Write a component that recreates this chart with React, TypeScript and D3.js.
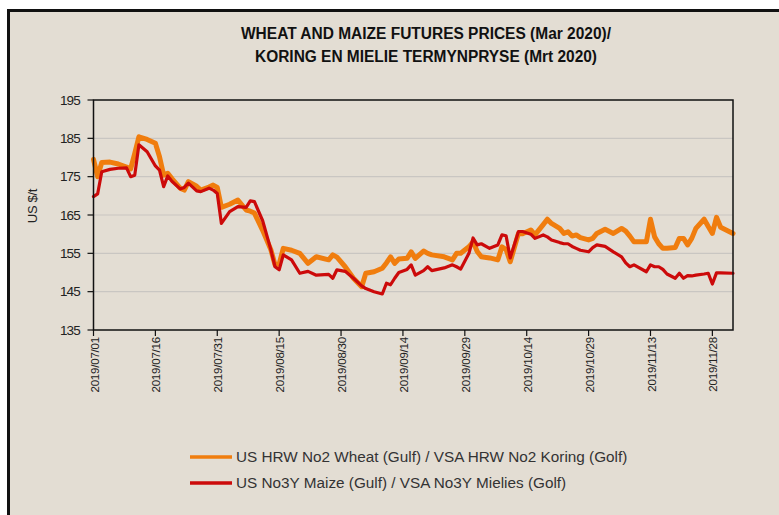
import React from "react";
import * as d3 from "d3";

const titleLines = [
  "WHEAT AND MAIZE FUTURES PRICES (Mar 2020)/",
  "KORING EN MIELIE TERMYNPRYSE  (Mrt 2020)",
];
const yAxisTitle = "US $/t";
const yTicks = [135, 145, 155, 165, 175, 185, 195];
const xTickDates = [
  "2019-07-01", "2019-07-16", "2019-07-31", "2019-08-15", "2019-08-30", "2019-09-14",
  "2019-09-29", "2019-10-14", "2019-10-29", "2019-11-13", "2019-11-28",
];
const seriesNames = [
  "US HRW No2 Wheat (Gulf) / VSA HRW No2 Koring (Golf)",
  "US No3Y Maize (Gulf) / VSA No3Y Mielies (Golf)",
];
const seriesColors = ["#f07d0e", "#cc0a0a"];

const dates = [
  "2019-07-01", "2019-07-02", "2019-07-03", "2019-07-05", "2019-07-07", "2019-07-09", "2019-07-10",
  "2019-07-11", "2019-07-12", "2019-07-14", "2019-07-16", "2019-07-17", "2019-07-18", "2019-07-19",
  "2019-07-20", "2019-07-22", "2019-07-23", "2019-07-24", "2019-07-26", "2019-07-27", "2019-07-29",
  "2019-07-30", "2019-07-31", "2019-08-01", "2019-08-03", "2019-08-05", "2019-08-07", "2019-08-08",
  "2019-08-09", "2019-08-11", "2019-08-13", "2019-08-14", "2019-08-15", "2019-08-16", "2019-08-18",
  "2019-08-20", "2019-08-22", "2019-08-24", "2019-08-27", "2019-08-28", "2019-08-29", "2019-08-31",
  "2019-09-02", "2019-09-04", "2019-09-05", "2019-09-07", "2019-09-09", "2019-09-10", "2019-09-11",
  "2019-09-12", "2019-09-13", "2019-09-15", "2019-09-16", "2019-09-17", "2019-09-19", "2019-09-20",
  "2019-09-21", "2019-09-24", "2019-09-26", "2019-09-27", "2019-09-28", "2019-09-30", "2019-10-01",
  "2019-10-02", "2019-10-03", "2019-10-05", "2019-10-07", "2019-10-08", "2019-10-09", "2019-10-10",
  "2019-10-12", "2019-10-13", "2019-10-15", "2019-10-16", "2019-10-18", "2019-10-19", "2019-10-20",
  "2019-10-22", "2019-10-23", "2019-10-24", "2019-10-25", "2019-10-26", "2019-10-27", "2019-10-29",
  "2019-10-30", "2019-10-31", "2019-11-02", "2019-11-04", "2019-11-06", "2019-11-07", "2019-11-08",
  "2019-11-09", "2019-11-12", "2019-11-13", "2019-11-14", "2019-11-15", "2019-11-16", "2019-11-17",
  "2019-11-19", "2019-11-20", "2019-11-21", "2019-11-22", "2019-11-23", "2019-11-24", "2019-11-26",
  "2019-11-27", "2019-11-28", "2019-11-29", "2019-11-30", "2019-12-03",
];

const wheat = [
  179.5, 175, 178.7, 178.8, 178.3, 177.5, 177,
  181.1, 185.4, 184.7, 183.7, 180.2, 175.4, 175.9,
  174.5, 172, 171.5, 173.7, 172.5, 171.5, 172.3,
  172.8, 172.2, 167, 167.8, 168.9, 166.3, 166,
  165.5, 161, 155.9, 152, 152.2, 156.3, 155.8,
  155, 152.4, 154.1, 153.3, 154.6, 154, 151.5,
  148.5, 146.3, 149.8, 150.2, 151.1, 152.5, 154.1,
  152.4, 153.5, 153.7, 155.4, 153.7, 155.6, 155,
  154.6, 154.1, 153.3, 155, 155, 156.7, 158,
  155.5, 154.1, 153.8, 153.3, 156.7, 156, 152.8,
  160.2, 160.1, 161.1, 159.8, 162.5, 163.9, 162.8,
  161.5, 160.2, 160.6, 159.5, 159.8, 159.1, 158.5,
  158.9, 160.2, 161.3, 160.2, 161.5, 160.8, 159.5,
  158, 158, 163.9, 159.3, 157.5, 156.3, 156.3,
  156.5, 158.9, 158.9, 157.2, 158.9, 161.5, 163.9,
  162, 160.2, 164.4, 161.8, 160.2,
];

const maize = [
  169.8, 170.5, 176.3, 176.9, 177.2, 177.3, 175,
  175.4, 183.3, 181.5, 177.8, 176.7, 172.4, 175.2,
  173.8, 171.8, 172.2, 173.3, 171.3, 171.1, 172,
  171.5, 170.6, 162.8, 165.9, 167.2, 167, 168.7,
  168.5, 163.5, 155.9, 151.5, 150.7, 154.6, 153.3,
  149.8, 150.3, 149.3, 149.5, 148.5, 150.7, 150.3,
  148.5, 146.5, 145.8, 145, 144.4, 147.2, 146.8,
  148.5, 150, 150.8, 152, 149.3, 150.5, 151.5,
  150.5, 151.2, 152, 151.5, 150.9, 155, 159,
  157.2, 157.5, 156.3, 157.2, 159.8, 159.6, 153.8,
  160.7, 160.7, 160, 158.9, 159.8, 159.3, 158.5,
  157.8, 157.5, 157.5, 156.8, 156.3, 155.8, 155.4,
  156.5, 157.2, 156.8, 155.4, 154.1, 152.5, 151.5,
  152, 150.2, 152, 151.5, 151.5, 150.8, 149.6,
  148.5, 149.8, 148.5, 149.2, 149.1, 149.3, 149.6,
  149.8, 147, 149.9, 149.9, 149.8,
];

const W = 779;
const H = 515;
const plot = { left: 93.5, right: 733, top: 100, bottom: 330 };
const FONT = "Arial, 'Liberation Sans', sans-serif";

export default function App() {
  const parse = d3.utcParse("%Y-%m-%d");
  const fmt = d3.utcFormat("%Y/%m/%d");
  const x = d3
    .scaleUtc()
    .domain([parse("2019-07-01")!, parse("2019-12-03")!])
    .range([plot.left, plot.right]);
  const y = d3.scaleLinear().domain([135, 195]).range([plot.bottom, plot.top]);

  const series = [wheat, maize].map((vals) =>
    vals.map((v, i) => ({ d: parse(dates[i])!, v }))
  );
  const line = d3
    .line<{ d: Date; v: number }>()
    .x((p) => x(p.d))
    .y((p) => y(p.v))
    .curve(d3.curveLinear);

  const widths = [5, 3.2];

  return (
    <svg
      width={W}
      height={H}
      viewBox={`0 0 ${W} ${H}`}
      style={{ position: "absolute", left: 0, top: 0, background: "#ffffff" }}
    >
      <rect x={0} y={0} width={W} height={H} fill="#ffffff" />
      <rect x={8.5} y={10.5} width={W + 20} height={H + 20} fill="#e3ddd3" stroke="#111" strokeWidth={3} />

      {/* title */}
      {titleLines.map((t, i) => (
        <text
          key={i}
          x={426}
          y={i === 0 ? 39 : 62}
          textAnchor="middle"
          fontFamily={FONT}
          fontWeight="bold"
          fontSize={16}
          fill="#111"
          textLength={i === 0 ? 370 : 342}
          lengthAdjust="spacingAndGlyphs"
        >
          {t}
        </text>
      ))}

      {/* gridlines */}
      {yTicks
        .filter((t) => t > 135 && t < 195)
        .map((t) => (
          <line key={t} x1={plot.left} x2={plot.right} y1={y(t)} y2={y(t)} stroke="#c9c6c2" strokeWidth={1.2} />
        ))}

      {/* y ticks and labels */}
      {yTicks.map((t) => (
        <g key={t}>
          <line x1={plot.left - 6} x2={plot.left} y1={y(t)} y2={y(t)} stroke="#111" strokeWidth={1.2} />
          <text
            x={80}
            y={y(t)}
            dy="0.35em"
            textAnchor="end"
            fontFamily={FONT}
            fontSize={13.5}
            fill="#222"
            letterSpacing={-0.8}
          >
            {t}
          </text>
        </g>
      ))}

      <text
        transform={`translate(37, 206) rotate(-90)`}
        textAnchor="middle"
        fontFamily={FONT}
        fontSize={13}
        fill="#222"
        letterSpacing={-0.3}
      >
        {yAxisTitle}
      </text>

      {/* x ticks and labels */}
      {xTickDates.map((s) => {
        const px = x(parse(s)!);
        return (
          <g key={s}>
            <line x1={px} x2={px} y1={plot.bottom} y2={plot.bottom + 6} stroke="#111" strokeWidth={1.2} />
            <text
              transform={`translate(${px + 1}, ${plot.bottom + 7}) rotate(-90)`}
              textAnchor="end"
              dy="0.35em"
              fontFamily={FONT}
              fontSize={11.5}
              fill="#222"
              letterSpacing={-0.2}
            >
              {fmt(parse(s)!)}
            </text>
          </g>
        );
      })}

      {/* series */}
      {series.map((pts, i) => (
        <path
          key={i}
          d={line(pts) || ""}
          fill="none"
          stroke={seriesColors[i]}
          strokeWidth={widths[i]}
          strokeLinejoin="round"
          strokeLinecap="round"
        />
      ))}

      {/* plot frame */}
      <rect
        x={plot.left}
        y={plot.top}
        width={plot.right - plot.left}
        height={plot.bottom - plot.top}
        fill="none"
        stroke="#111"
        strokeWidth={1.5}
      />

      {/* legend */}
      {seriesNames.map((n, i) => {
        const ly = 457 + i * 26;
        return (
          <g key={n}>
            <line x1={190} x2={232} y1={ly} y2={ly} stroke={seriesColors[i]} strokeWidth={3.5} />
            <text x={236} y={ly} dy="0.35em" fontFamily={FONT} fontSize={15.3} fill="#333">
              {n}
            </text>
          </g>
        );
      })}
    </svg>
  );
}
